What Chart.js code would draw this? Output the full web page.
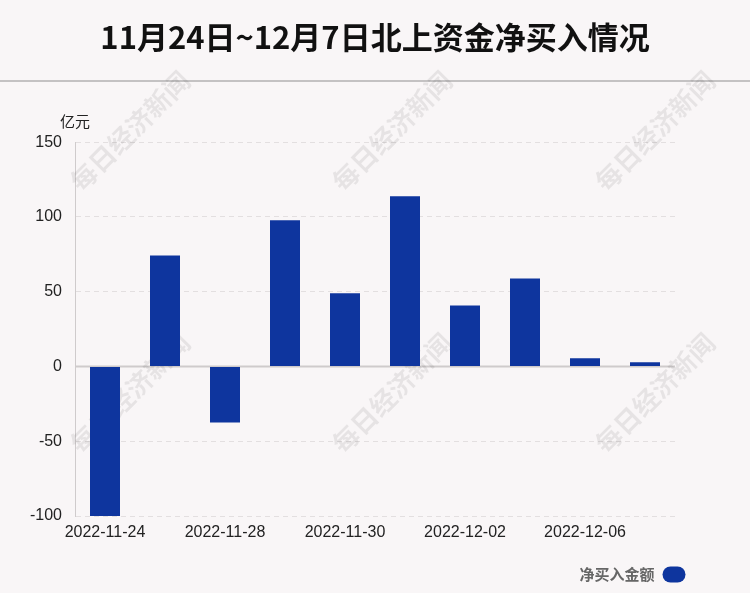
<!DOCTYPE html>
<html><head><meta charset="utf-8">
<script src="https://cdn.jsdelivr.net/npm/chart.js@4/dist/chart.umd.min.js"></script>
<style>html,body{margin:0;padding:0;background:#f9f6f7;}canvas{display:block;}</style>
</head><body>
<canvas id="c" width="750" height="593"></canvas>
<script>
const titleText = '11月24日~12月7日北上资金净买入情况';
const unitText = '亿元';
const seriesName = '净买入金额';
const watermarkText = '每日经济新闻';
const categories = ['2022-11-24','2022-11-25','2022-11-28','2022-11-29','2022-11-30','2022-12-01','2022-12-02','2022-12-05','2022-12-06','2022-12-07'];
const netBuy = [-100.1, 74.3, -37.4, 97.8, 48.9, 113.8, 40.8, 58.8, 5.5, 2.9];
const yTicks = [-100, -50, 0, 50, 100, 150];

const BAR = '#0e359e';
const MARKER_W = 78;
const marker = document.createElement('canvas');
marker.width = MARKER_W; marker.height = 17;
(function(){const m = marker.getContext('2d'); m.fillStyle = BAR; m.beginPath(); m.roundRect(0.5,0.5,23,16,8); m.fill();})();

const deco = {
  id:'deco',
  beforeDraw(chart){
    const ctx = chart.ctx;
    ctx.save();
    ctx.fillStyle = '#f9f6f7';
    ctx.fillRect(0,0,chart.width,chart.height);
    ctx.fillStyle = '#c4c2c3';
    ctx.fillRect(0,80,chart.width,2);
    ctx.fillStyle = '#222';
    ctx.font = '15px "Noto Sans CJK SC"';
    ctx.textAlign = 'left'; ctx.textBaseline = 'middle';
    ctx.fillText(unitText, 60, 121);
    ctx.restore();
  },
  beforeDatasetsDraw(chart){
    const ctx = chart.ctx;
    const y = chart.scales.y;
    const a = chart.chartArea;
    ctx.save();
    ctx.strokeStyle = '#cfcbcc'; ctx.lineWidth = 2;
    const zy = y.getPixelForValue(0);
    ctx.beginPath(); ctx.moveTo(a.left, zy); ctx.lineTo(a.right, zy); ctx.stroke();
    ctx.fillStyle = 'rgba(0,0,0,0.075)';
    ctx.font = 'bold 26px "Noto Sans CJK SC"';
    ctx.textAlign = 'center'; ctx.textBaseline = 'middle';
    [[130,131],[392,131],[655,131],[130,393],[392,393],[655,393]].forEach(([x,yy])=>{
      ctx.save(); ctx.translate(x,yy); ctx.rotate(-Math.PI/4); ctx.fillText(watermarkText,0,0); ctx.restore();
    });
    ctx.restore();
  }
};

new Chart(document.getElementById('c'), {
  type:'bar',
  data:{labels:categories, datasets:[{label:seriesName, data:netBuy, backgroundColor:BAR, barPercentage:0.5, categoryPercentage:1.0, pointStyle:marker}]},
  plugins:[deco],
  options:{
    responsive:false, animation:false, devicePixelRatio:1,
    layout:{padding:{left:0,right:0,top:0,bottom:1}},
    plugins:{
      title:{display:true, text:titleText, color:'#111', font:{family:'"Noto Sans CJK SC"', size:31, weight:'bold', lineHeight:1.2}, padding:{top:19,bottom:86}},
      legend:{display:true, position:'bottom', align:'start', rtl:true,
        labels:{usePointStyle:true, pointStyleWidth:MARKER_W, color:'#666', font:{family:'"Noto Sans CJK SC"', size:15, weight:'bold'}, padding:10}},
      tooltip:{enabled:false}
    },
    scales:{
      x:{grid:{display:false, drawTicks:false}, border:{display:false},
        ticks:{autoSkip:false, maxRotation:0, padding:7, color:'#222', font:{family:'"Liberation Sans"', size:16},
          callback:(v,i)=> i%2===0 ? categories[i] : ''},
        afterFit:s=>{s.height=41;}},
      y:{min:-100, max:150, afterBuildTicks:s=>{s.ticks = yTicks.map(v=>({value:v}));},
        grid:{color:(c)=> c.tick && c.tick.value===0 ? 'rgba(0,0,0,0)' : '#e3dfe0', drawTicks:false},
        border:{display:true, color:'#cfcbcc', width:1, dash:[5,4]},
        ticks:{padding:13, color:'#222', font:{family:'"Liberation Sans"', size:16}},
        afterFit:s=>{s.width=75;}},
      y2:{position:'right', display:true, grid:{display:false}, border:{display:false}, ticks:{display:false},
        afterFit:s=>{s.width=75;}}
    }
  }
});
</script>
</body></html>
